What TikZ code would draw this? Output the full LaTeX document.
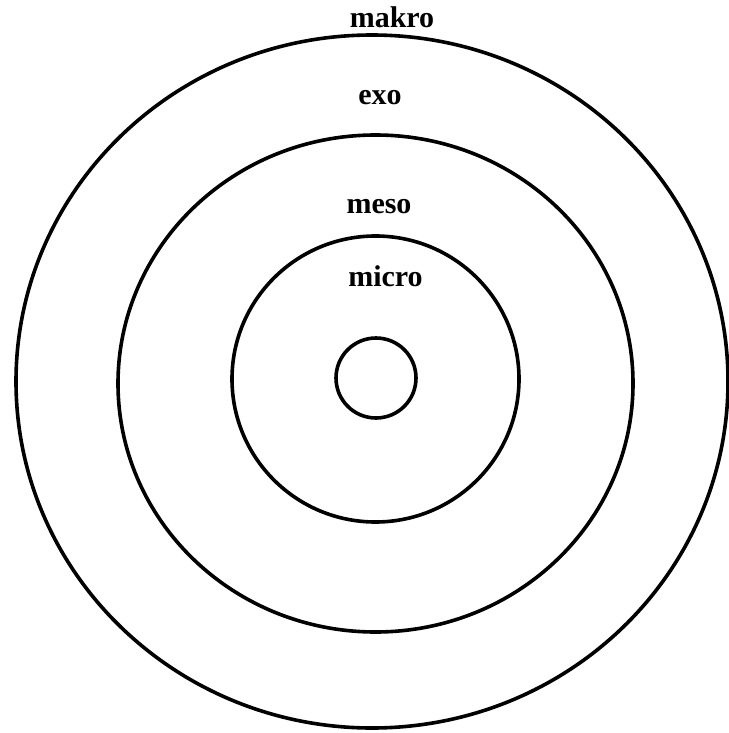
\documentclass[tikz,border=0pt]{standalone}
\usepackage{fontspec}
\setmainfont{Liberation Serif}
\begin{document}
\begin{tikzpicture}[x=1pt,y=-1pt,
  ring/.style={draw=black,line width=3.6pt},
  lbl/.style={anchor=base,inner sep=0pt,font=\fontsize{30}{36}\selectfont\bfseries}]
\useasboundingbox (0,0) rectangle (728,733);
\draw[ring] (372,381.5) ellipse [x radius=356, y radius=346.5];
\draw[ring] (375.5,383.5) ellipse [x radius=257.5, y radius=248.5];
\draw[ring] (375.5,379) ellipse [x radius=143.5, y radius=143];
\draw[ring] (376,378) circle [radius=40];
\node[lbl] (makro) at (392,28) {makro};
\node[lbl] (exo) at (380,105) {exo};
\node[lbl] (meso) at (379,213) {meso};
\node[lbl] (micro) at (385.5,286) {micro};
\end{tikzpicture}
\end{document}
